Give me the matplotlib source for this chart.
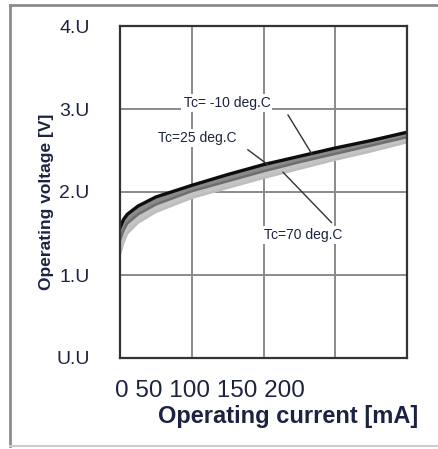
import matplotlib
matplotlib.use("Agg")
import matplotlib.pyplot as plt
from matplotlib.lines import Line2D

plt.rcParams['font.family'] = ['Liberation Sans', 'DejaVu Sans']

# operating current [mA] and voltage [V] for three case temperatures
current = [0, 5, 10, 25, 50, 100, 150, 200, 250, 300, 350, 400]
v_m10 = [1.57, 1.67, 1.73, 1.83, 1.94, 2.08, 2.21, 2.33, 2.43, 2.53, 2.62, 2.72]
v_25 = [1.42, 1.54, 1.62, 1.73, 1.85, 2.01, 2.13, 2.25, 2.36, 2.46, 2.56, 2.66]
v_70 = [1.25, 1.40, 1.50, 1.63, 1.76, 1.93, 2.05, 2.17, 2.28, 2.39, 2.49, 2.60]

ytick_vals = [0, 1, 2, 3, 4]
ytick_text = ["U.U", "1.U", "2.U", "3.U", "4.U"]
xtick_text = "0 50 100 150 200"

navy = "#1c2340"

fig = plt.figure(figsize=(4.38, 4.49), dpi=100)
ax = fig.add_axes([120/438, 91/449, 287/438, 332/449])

# shaded spread between the curves, then the three curves
ax.fill_between(current, v_70, v_25, color="#c4c4c4", lw=0)
ax.fill_between(current, v_25, v_m10, color="#8a8a8a", lw=0)
ax.plot(current, v_70, color="#bdbdbd", lw=1.8)
ax.plot(current, v_25, color="#6e6e6e", lw=1.8)
ax.plot(current, v_m10, color="#0d0d0d", lw=2.4)

ax.set_xlim(0, 400)
ax.set_ylim(0, 4)
ax.set_xticks([100, 200, 300])
ax.set_xticklabels([])
ax.set_yticks(ytick_vals)
ax.set_yticklabels(ytick_text, fontsize=14, color=navy)
ax.tick_params(axis="both", length=0)
ax.tick_params(axis="y", pad=22)
ax.grid(True, color="#8a8a8a", lw=1.4)
ax.set_axisbelow(True)
for s in ax.spines.values():
    s.set_color("#333333")
    s.set_linewidth(1.6)

lbl = dict(fontsize=10, color=navy, ha="center", va="center",
           bbox=dict(facecolor="white", edgecolor="none", pad=1.5))
arrow = dict(arrowstyle="-", color="#333333", lw=1.0, shrinkA=0, shrinkB=0)
ax.annotate("Tc= -10 deg.C", xy=(268, 2.45), xytext=(149, 3.07), **lbl)
ax.annotate("", xy=(268, 2.45), xytext=(234, 2.93), arrowprops=arrow)
ax.annotate("Tc=25 deg.C", xy=(206, 2.33), xytext=(107, 2.65), **lbl)
ax.annotate("", xy=(206, 2.33), xytext=(178, 2.51), arrowprops=arrow)
ax.annotate("Tc=70 deg.C", xy=(227, 2.24), xytext=(255, 1.48), **lbl)
ax.annotate("", xy=(227, 2.24), xytext=(295, 1.63), arrowprops=arrow)

fig.text(115/438, 58/449, xtick_text, fontsize=17.5, color=navy, ha="left", va="center")
fig.text(418/438, 32/449, "Operating current [mA]", fontsize=17, fontweight="bold",
         color=navy, ha="right", va="center")
fig.text(47/438, 247/449, "Operating voltage [V]", fontsize=12.5, fontweight="bold",
         color=navy, rotation=90, ha="center", va="center")

# outer frame (top, left, bottom)
frame = dict(color="#8c8c8c", lw=2, transform=fig.transFigure)
fig.add_artist(Line2D([10/438, 1], [1 - 5/449, 1 - 5/449], **frame))
fig.add_artist(Line2D([10/438, 10/438], [1 - 5/449, 3/449], **frame))
fig.add_artist(Line2D([10/438, 1], [3/449, 3/449], color="#cccccc", lw=1.5,
                      transform=fig.transFigure))

fig.savefig("out.png", dpi=100)
